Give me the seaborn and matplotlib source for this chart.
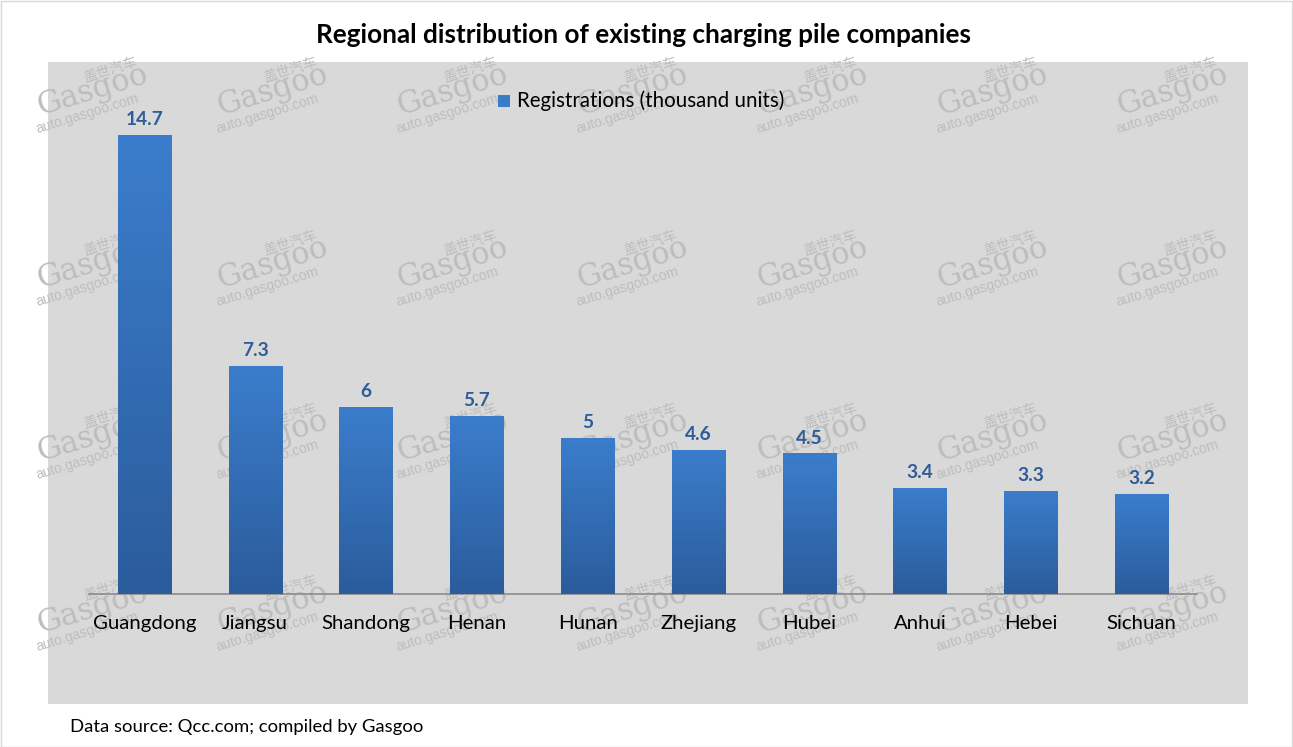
import numpy as np
import pandas as pd
import matplotlib
matplotlib.use("Agg")
import matplotlib.pyplot as plt
import seaborn as sns
from matplotlib.patches import Rectangle
from matplotlib.colors import LinearSegmentedColormap

# ---- data ----
regions = ["Guangdong", "Jiangsu", "Shandong", "Henan", "Hunan",
           "Zhejiang", "Hubei", "Anhui", "Hebei", "Sichuan"]
registrations = [14.7, 7.3, 6, 5.7, 5, 4.6, 4.5, 3.4, 3.3, 3.2]
value_labels = ["14.7", "7.3", "6", "5.7", "5", "4.6", "4.5", "3.4", "3.3", "3.2"]
series_name = "Registrations (thousand units)"
title = "Regional distribution of existing charging pile companies"
source = "Data source: Qcc.com; compiled by Gasgoo"

df = pd.DataFrame({"region": regions, "value": registrations})

sns.set_theme(style="white")
plt.rcParams["font.family"] = ["Lato", "DejaVu Sans"]

W, H = 1293, 747
fig = plt.figure(figsize=(W / 100, H / 100), dpi=100)
fig.patch.set_facecolor("white")

def fx(x):
    return x / W

def fy(y):
    return 1 - y / H

# outer border
fig.patches.append(Rectangle((0.5 / W, 0.5 / H), 1 - 1.5 / W, 1 - 1.5 / H,
                             transform=fig.transFigure, fill=False,
                             edgecolor="#d9d9d9", lw=1, zorder=0))
# gray chart area
fig.patches.append(Rectangle((fx(48), fy(704)), fx(1248) - fx(48), fy(62) - fy(704),
                             transform=fig.transFigure, facecolor="#d9d9d9",
                             edgecolor="none", zorder=0))

# watermarks
wm_color = "#bdbdbd"
for j, cy in enumerate([92, 265, 438, 610]):
    for i in range(7):
        cx = 92 + 180 * i
        fig.text(fx(cx + 18), fy(cy - 22), "盖世汽车", fontsize=10, rotation=17,
                 color=wm_color, ha="center", va="center",
                 family=["Noto Sans CJK SC", "DejaVu Sans"], zorder=1)
        fig.text(fx(cx), fy(cy - 2), "Gasgoo", fontsize=22, rotation=17,
                 color=wm_color, ha="center", va="center",
                 family=["DejaVu Serif"], zorder=1)
        fig.text(fx(cx - 5), fy(cy + 22), "auto.gasgoo.com", fontsize=10, rotation=17,
                 color=wm_color, ha="center", va="center",
                 family=["Liberation Sans"], zorder=1)

ax = fig.add_axes([fx(89), fy(594), fx(1197) - fx(89), fy(110) - fy(594)])
ax.patch.set_alpha(0)
ax.set_zorder(2)

sns.barplot(data=df, x="region", y="value", ax=ax, color="#3a7bc8",
            width=0.48, saturation=1, zorder=3)

ax.set_ylim(0, 15.5)
ax.set_xlim(-0.5, len(regions) - 0.5)

# gradient fill for bars
cmap = LinearSegmentedColormap.from_list("bar", ["#3b7dcc", "#2b5c9c"])
grad = np.linspace(0, 1, 256).reshape(-1, 1)
for p in ax.patches:
    x0, y0 = p.get_x(), p.get_y()
    w, h = p.get_width(), p.get_height()
    im = ax.imshow(grad, cmap=cmap, aspect="auto", extent=(x0, x0 + w, y0, y0 + h),
                   origin="upper", zorder=3)
    im.set_clip_path(p)
    p.set_facecolor("none")
    p.set_edgecolor("none")
ax.set_xlim(-0.5, len(regions) - 0.5)
ax.set_ylim(0, 15.5)
ax.set_aspect("auto")

for i, (v, lab) in enumerate(zip(registrations, value_labels)):
    ax.annotate(lab, (i, v), xytext=(0, 5), textcoords="offset points",
                ha="center", va="bottom", fontsize=13.8, fontweight="bold",
                color="#2f5b98", zorder=5)

# axes styling
for s in ["top", "right", "left"]:
    ax.spines[s].set_visible(False)
ax.spines["bottom"].set_color("#8c8c8c")
ax.spines["bottom"].set_linewidth(1.2)
ax.set_yticks([])
ax.set_xlabel("")
ax.set_ylabel("")
ax.set_xticks(range(len(regions)))
ax.set_xticklabels(regions, fontsize=14.7, color="black")
ax.tick_params(axis="x", length=0, pad=15)
ax.set_xticks(np.arange(-0.5, len(regions) + 0.5, 1), minor=True)
ax.tick_params(axis="x", which="minor", length=8, width=1.2, color="#8c8c8c",
               direction="out")

# legend
fig.patches.append(Rectangle((fx(498), fy(107)), fx(510) - fx(498), fy(95) - fy(107),
                             transform=fig.transFigure, facecolor="#3a7bc8",
                             edgecolor="none", zorder=3))
fig.text(fx(517), fy(101), series_name, fontsize=14.8, ha="left", va="center",
         color="black", zorder=4)

fig.text(fx(644), fy(35), title, fontsize=18.8, fontweight="bold",
         ha="center", va="center", color="black")
fig.text(fx(70), fy(727), source, fontsize=13.3, ha="left", va="center", color="black")

fig.savefig("out.png", dpi=100)
